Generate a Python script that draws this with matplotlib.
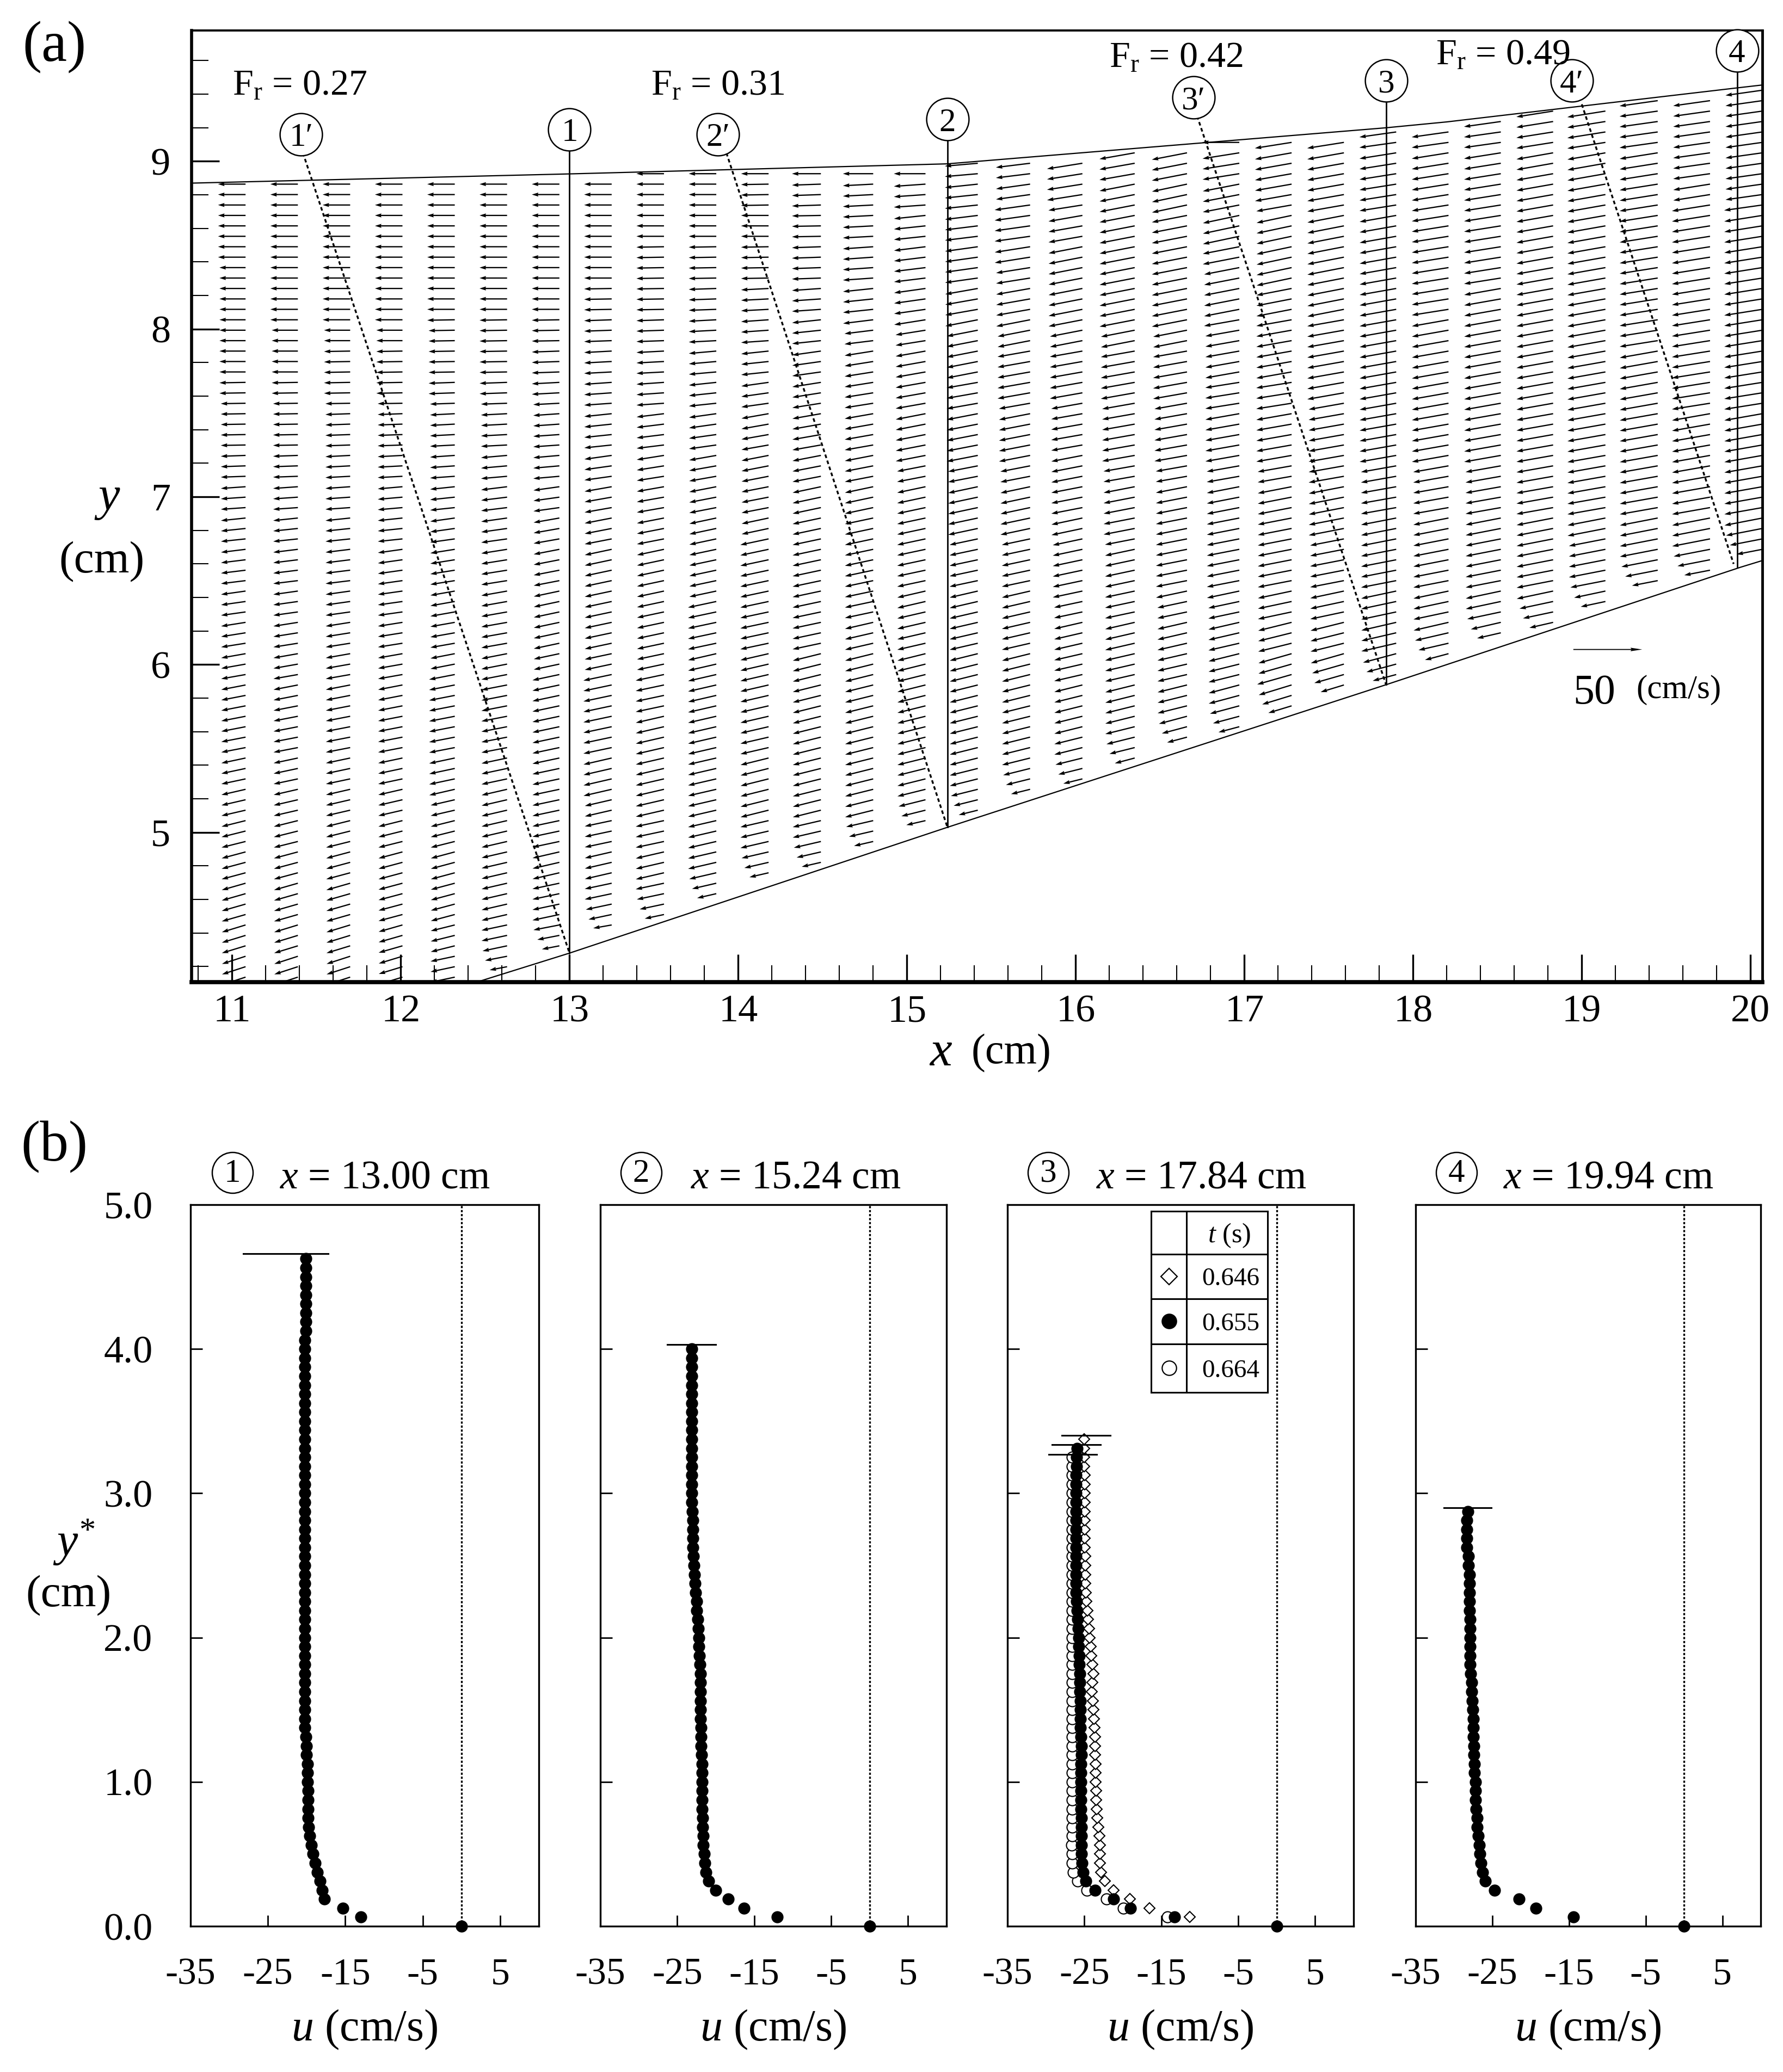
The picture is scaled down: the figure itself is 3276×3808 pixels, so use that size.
import numpy as np
import matplotlib
matplotlib.use("Agg")
import matplotlib.pyplot as plt

W, H = 3276, 3808
plt.rcParams['font.family'] = ['Liberation Serif', 'DejaVu Serif']
plt.rcParams['mathtext.fontset'] = 'custom'
plt.rcParams['mathtext.rm'] = 'Liberation Serif'
plt.rcParams['mathtext.it'] = 'Liberation Serif:italic'

# (a) boundaries and sections
surface_x = [10.76, 13.0, 15.24, 17.84, 18.2, 19.94, 20.07]
surface_y = [8.87, 8.925, 8.985, 9.2, 9.235, 9.44, 9.455]
bed_x = [12.45, 13.0, 15.24, 17.84, 19.94, 20.07]
bed_y = [4.107, 4.28, 5.03, 5.88, 6.58, 6.62]

section_names = ["1", "2", "3", "4"]
section_x = [13.0, 15.24, 17.84, 19.92]
section_bed = [4.28, 5.03, 5.88, 6.58]
section_top = [9.19, 9.25, 9.48, 9.66]
slant_names = ["1\u2032", "2\u2032", "3\u2032", "4\u2032"]
slant_label_x = [11.41, 13.88, 16.70, 18.94]
slant_label_y = [9.16, 9.16, 9.38, 9.48]
slant_top_x = [11.42, 13.93, 16.72, 19.0]
slant_top_y = [9.05, 9.05, 9.27, 9.34]
slant_end_x = [13.0, 15.24, 17.84, 19.9]
slant_end_y = [4.28, 5.03, 5.88, 6.6]
froude = ["0.27", "0.31", "0.42", "0.49"]

# (a) velocity field: tails of the arrows
col_x = [11.08, 11.39, 11.70, 12.01, 12.32, 12.63, 12.94, 13.25, 13.56, 13.87,
         14.18, 14.49, 14.80, 15.11, 15.42, 15.73, 16.04, 16.35, 16.66, 16.97,
         17.28, 17.59, 17.90, 18.21, 18.52, 18.83, 19.14, 19.45, 19.76, 20.07]
row_y0 = 8.864
row_dy = 0.0622

# downward angle of the arrows in degrees, one row per height, one entry per column
angle_y = [9.4, 9.2, 9.0, 8.8, 8.6, 8.4, 8.2, 8.0, 7.8, 7.6, 7.4, 7.2, 7.0, 6.8,
           6.6, 6.4, 6.2, 6.0, 5.8, 5.6, 5.4, 5.2, 5.0, 4.8, 4.6, 4.4, 4.2]
angle_deg = [
    [0,0,0,0,0,0,0,0,0,0,0,0,0,0,0,0,0,0,0,0,9,9,8,8,8,8,8,8,8,8],
    [0,0,0,0,0,0,0,0,0,0,0,0,0,0,0,0,0,0,0,0,9,9,8,8,8,9,9,8,8,8],
    [0,0,0,0,0,0,0,0,0,0,0,0,0,0,5,7,9,10,11,9,10,10,9,9,9,10,10,9,8,8],
    [0,0,0,0,0,0,0,0,0,0,1,2,3,4,6,8,9,11,12,11,10,10,9,9,9,10,10,9,9,8],
    [0,0,0,0,0,0,0,0,0,0,0,1,3,6,7,8,10,11,11,12,12,11,10,9,9,10,10,9,9,9],
    [0,0,0,0,0,0,0,0,1,1,1,2,4,7,8,9,11,11,11,11,12,11,10,9,9,10,10,9,9,9],
    [0,0,0,0,0,0,0,1,1,2,3,4,6,8,10,10,11,11,11,11,11,11,10,9,10,10,10,9,9,9],
    [0,0,0,0,1,1,1,2,2,3,4,6,7,9,11,11,11,11,11,10,10,10,10,10,10,10,10,9,9,9],
    [0,0,1,1,1,1,2,3,3,5,6,8,9,10,11,10,10,10,10,10,10,10,10,10,10,10,10,10,9,9],
    [1,1,1,1,2,2,3,4,4,6,8,9,9,10,10,10,10,10,10,9,9,10,10,10,10,10,10,10,9,9],
    [1,1,2,2,3,3,4,6,7,8,10,10,10,11,11,11,10,10,10,10,10,10,10,10,10,10,10,10,10,10],
    [2,2,3,3,4,5,5,8,9,10,11,11,11,11,11,11,11,10,10,10,10,10,10,10,10,10,10,10,10,10],
    [4,4,4,5,6,7,8,10,10,11,11,12,12,12,12,12,11,11,11,11,11,11,10,10,10,10,10,10,10,10],
    [6,6,6,6,8,8,10,11,11,12,12,12,12,12,12,12,12,11,11,11,11,11,11,11,11,11,11,11,11,11],
    [7,7,7,8,9,9,11,12,12,12,12,12,12,12,12,12,12,12,11,11,11,11,11,11,11,11,11,11,11,11],
    [8,8,8,8,10,10,12,12,12,12,12,12,12,13,13,13,12,12,12,12,12,12,12,12,12,12,12,13,13,13],
    [9,9,9,9,10,10,12,12,12,12,12,12,13,13,13,13,13,13,13,13,14,14,13,13,13,13,13,14,14,14],
    [10,10,10,10,11,11,12,12,12,13,13,14,14,14,14,14,13,13,13,14,16,16,15,15,15,15,15,15,16,16],
    [11,11,11,11,11,11,12,12,12,13,13,14,14,14,14,14,14,14,14,15,17,17,16,16,16,16,16,16,16,16],
    [11,11,11,11,11,11,12,12,13,13,13,14,14,14,14,14,14,14,15,15,17,17,16,16,16,16,16,16,16,16],
    [12,12,12,12,12,12,12,13,13,13,14,14,14,14,14,14,14,15,15,15,17,17,16,16,16,16,16,16,16,16],
    [13,13,13,13,13,13,12,13,13,13,14,14,14,14,14,14,14,15,15,15,17,17,16,16,16,16,16,16,16,16],
    [14,14,14,14,14,13,12,12,12,13,13,13,13,13,13,14,14,15,15,15,17,17,16,16,16,16,16,16,16,16],
    [15,15,15,15,15,13,13,13,13,13,13,13,13,13,13,14,14,15,15,15,17,17,16,16,16,16,16,16,16,16],
    [16,16,16,15,15,13,12,12,12,13,13,13,13,13,13,14,14,15,15,15,17,17,16,16,16,16,16,16,16,16],
    [17,17,17,16,14,12,11,10,12,13,13,13,13,13,13,14,14,15,15,15,17,17,16,16,16,16,16,16,16,16],
    [18,18,18,17,12,11,10,10,12,13,13,13,13,13,13,14,14,15,15,15,17,17,16,16,16,16,16,16,16,16],
]

# speed of the arrows in cm/s, same layout with coarser heights
speed_y = [9.4, 9.0, 8.6, 8.2, 7.8, 7.4, 7.0, 6.6, 6.2, 5.8, 5.4, 5.0, 4.6, 4.2]
speed = [
    [20,20,20,20,20,20,20,20,20,20,20,21,22,23,24,25,26,26,26,27,27,27,27,27,27,27,28,28,27,27],
    [20,20,20,20,20,20,20,20,20,20,20,21,22,23,24,25,26,26,26,27,27,27,27,27,27,27,28,28,27,27],
    [20,20,20,20,20,20,20,20,20,20,20,21,22,23,24,26,25,26,26,27,26,27,27,27,27,27,28,28,28,28],
    [19,20,20,20,20,20,20,20,20,20,20,21,22,23,24,25,25,26,26,26,26,27,27,27,27,27,28,28,28,28],
    [19,19,19,19,19,20,20,20,20,20,20,21,21,22,23,24,24,25,25,25,26,27,27,27,27,27,28,28,28,28],
    [18,18,18,18,18,19,19,20,20,20,20,21,21,22,23,23,23,24,24,25,26,26,27,27,27,27,28,28,28,28],
    [18,18,18,18,18,19,19,20,20,20,20,21,21,21,22,22,23,23,23,24,25,26,26,26,26,27,28,28,28,28],
    [18,18,18,18,18,19,19,20,20,20,21,21,21,21,21,21,22,22,23,24,25,25,26,26,26,27,27,28,28,28],
    [18,18,18,18,18,19,19,20,20,21,21,21,21,21,21,21,21,22,22,23,25,25,26,26,26,26,27,27,27,27],
    [18,18,18,18,19,19,20,21,21,21,21,21,21,21,21,21,21,22,22,23,26,26,26,26,26,26,27,27,27,27],
    [18,18,18,18,19,19,20,21,21,21,21,21,21,21,21,21,21,22,22,23,26,26,26,26,26,26,27,27,27,27],
    [18,18,18,18,18,19,20,20,21,21,21,21,21,21,21,21,21,22,22,23,26,26,26,26,26,26,27,27,27,27],
    [18,18,18,18,18,19,20,20,21,21,21,21,21,21,21,21,21,22,22,23,26,26,26,26,26,26,27,27,27,27],
    [18,18,18,18,18,19,19,20,21,21,21,21,21,21,21,21,21,22,22,23,26,26,26,26,26,26,27,27,27,27],
]
# shortening of the last rows above the bed, lowest row first
bed_ratio = [0.68, 0.86, 0.96]

# (b) velocity profiles, u at y* = 0, 0.0625, 0.125, ...
u_p1 = [0, -13.0, -15.3, -17.7, -18.0, -18.3, -18.6, -18.9, -19.15, -19.4, -19.6, -19.75, -19.8, -19.8,
        -19.8, -19.8, -19.85, -19.85, -19.9, -20.0, -20.0, -20.1, -20.2, -20.2, -20.2, -20.2, -20.2] \
    + [-20.2]*14 + [-20.25]*15 + [-20.2]*10 + [-20.1]*9
u_p2 = [0, -12.0, -16.3, -18.35, -20.0, -20.9, -21.27, -21.4, -21.5, -21.6, -21.65, -21.7, -21.7, -21.75,
        -21.75, -21.8, -21.8, -21.8, -21.8, -21.85, -21.9, -21.9, -21.9, -21.95, -22.0, -22.0, -22.0,
        -22.0, -22.0, -22.05, -22.1, -22.2, -22.2, -22.25, -22.35, -22.45, -22.5, -22.6, -22.7, -22.75,
        -22.85, -22.9, -22.95, -23.0, -23.0, -23.0, -23.05, -23.1, -23.1] + [-23.1]*16
u_p3_filled = [0, -13.3, -19.0, -21.2, -23.6, -24.8, -25.2, -25.3, -25.4, -25.4, -25.4, -25.4, -25.4,
               -25.45, -25.45, -25.45, -25.45, -25.45, -25.45, -25.4, -25.4, -25.45, -25.5, -25.5, -25.55,
               -25.55, -25.6, -25.6, -25.6, -25.65, -25.65, -25.7, -25.75, -25.8, -25.9, -25.95, -26.0,
               -26.05, -26.05, -26.05, -26.05, -26.05, -26.05, -26.05, -26.05, -26.05, -26.05, -26.05,
               -26.05, -26.05, -26.05, -26.0, -26.0, -25.97]
u_p3_open = [None, -14.2, -19.9, -22.1, -24.65, -25.9, -26.46, -26.6, -26.6, -26.65] + [-26.6]*43
u_p3_diamond = [None, -11.3, -16.5, -19.1, -21.2, -22.3, -22.8, -23.0, -23.0, -23.0, -23.05, -23.2, -23.3,
                -23.4, -23.45, -23.5, -23.55, -23.55, -23.55, -23.6, -23.6, -23.6, -23.7, -23.75, -23.85,
                -23.9, -24.0, -23.95, -23.85, -23.95, -24.1, -24.2, -24.3, -24.4, -24.5, -24.6, -24.75,
                -24.8, -24.85, -24.85, -24.9, -24.9] + [-24.95]*9 + [-25.0]*4
u_p4 = [0, -14.4, -19.3, -21.5, -24.7, -25.9, -26.3, -26.5, -26.6, -26.7, -26.85, -27.0, -27.0, -27.1,
        -27.2, -27.2, -27.2, -27.3, -27.3, -27.4, -27.4, -27.45, -27.5, -27.5, -27.55, -27.6, -27.7,
        -27.7, -27.8, -27.9, -27.9, -27.9, -27.9, -27.9, -27.9, -27.95, -27.95, -28.0, -28.0, -28.0,
        -28.1, -28.15, -28.3, -28.3, -28.3, -28.3, -28.2]
row_dystar = 0.0625

panel_names = ["1", "2", "3", "4"]
panel_titles = ["13.00", "15.24", "17.84", "19.94"]
surf_lines = [[(4.66, -28.2, -17.2)], [(4.03, -26.3, -20.0)],
              [(3.40, -27.9, -21.6), (3.337, -29.2, -22.9), (3.27, -29.6, -23.4)],
              [(2.90, -31.3, -25.1)]]
u_ticks = [-35, -25, -15, -5, 5]
ystar_ticks = [0, 1, 2, 3, 4, 5]
legend_times = ["0.646", "0.655", "0.664"]


def px_axes(fig, left, top, right, bottom):
    return fig.add_axes([left/W, 1-bottom/H, (right-left)/W, (bottom-top)/H])


def ftext(fig, x, y, s, size, **kw):
    kw.setdefault("ha", "center")
    kw.setdefault("va", "center")
    return fig.text(x/W, 1-y/H, s, fontsize=size, **kw)


fig = plt.figure(figsize=(W/100, H/100), dpi=100)

# ---- panel (a)
ax = px_axes(fig, 352, 56, 3238, 1805)
ax.set_xlim(10.76, 20.07)
ax.set_ylim(4.107, 9.78)

xs, ys, us, vs = [], [], [], []
angle_y_arr = np.array(angle_y)
speed_y_arr = np.array(speed_y)
angle_arr = np.array(angle_deg, dtype=float)
speed_arr = np.array(speed, dtype=float)
all_rows = row_y0 - row_dy*np.arange(-10, 78)
for c, x in enumerate(col_x):
    top = np.interp(x, surface_x, surface_y) - 0.008
    low = np.interp(x, bed_x, bed_y) + 0.025
    rows = all_rows[(all_rows <= top) & (all_rows >= low)]
    for i, y in enumerate(rows):
        a = np.radians(angle_arr[np.argmin(np.abs(angle_y_arr-y)), c])
        s = speed_arr[np.argmin(np.abs(speed_y_arr-y)), c]
        from_bed = len(rows)-1-i
        if x > bed_x[0] and from_bed < len(bed_ratio):
            s = s*bed_ratio[from_bed]
        xs.append(x)
        ys.append(y)
        us.append(-s*np.cos(a))
        vs.append(-s*np.sin(a))
ax.quiver(xs, ys, us, vs, pivot='tail', units='dots', scale_units='dots', scale=1/2.53,
          width=2.3, headwidth=3.2, headlength=5.2, headaxislength=4.8, minlength=0,
          color='k', zorder=2)

ax.plot(surface_x, surface_y, color='k', lw=1.6, zorder=3)
ax.plot(bed_x, bed_y, color='k', lw=1.6, zorder=3)

for i in range(4):
    ax.plot([section_x[i], section_x[i]], [section_bed[i], section_top[i]], color='k', lw=2.0, zorder=3)
    ax.plot([slant_top_x[i], slant_end_x[i]], [slant_top_y[i], slant_end_y[i]], color='k', lw=2.4,
            dashes=(2.0, 1.5), zorder=3)
    ax.plot(section_x[i], section_top[i], 'o', ms=56, mfc='white', mec='k', mew=1.8, zorder=4, clip_on=False)
    ax.text(section_x[i], section_top[i], section_names[i], fontsize=44, ha='center', va='center_baseline', zorder=5)
    ax.plot(slant_label_x[i], slant_label_y[i], 'o', ms=56, mfc='white', mec='k', mew=1.8, zorder=4, clip_on=False)
    ax.text(slant_label_x[i], slant_label_y[i], slant_names[i], fontsize=44, ha='center', va='center_baseline', zorder=5)

ax.quiver([18.95], [6.09], [50], [0], pivot='tail', units='dots', scale_units='dots', scale=1/2.53,
          width=1.8, headwidth=3.6, headlength=12, headaxislength=11, color='k', zorder=2)

ax.set_xticks(range(11, 21))
ax.set_xticks(np.arange(10.8, 20.05, 0.2), minor=True)
ax.set_yticks([5, 6, 7, 8, 9])
ax.set_yticks(np.arange(4.2, 9.75, 0.2), minor=True)
ax.tick_params(axis='both', which='major', direction='in', length=37, width=2.4, labelsize=52)
ax.tick_params(axis='both', which='minor', direction='in', length=22, width=1.5)
ax.tick_params(axis='x', which='major', pad=16)
ax.tick_params(axis='y', which='major', pad=28)
ax.spines['top'].set_linewidth(2.8)
ax.spines['left'].set_linewidth(4)
ax.spines['right'].set_linewidth(3.5)
ax.spines['bottom'].set_linewidth(5.5)

fr_xy = [(551, 158), (1319, 158), (2161, 107), (2761, 102)]
for (px, py), f in zip(fr_xy, froude):
    ftext(fig, px, py, "F$_{\\mathrm{r}}$ = " + f, 49)
ftext(fig, 2929, 1274, "50", 56)
ftext(fig, 3084, 1268, "(cm/s)", 44)
ftext(fig, 1729, 1936, "$\\mathit{x}$", 66)
ftext(fig, 1858, 1936, "(cm)", 56)
ftext(fig, 197, 918, "$\\mathit{y}$", 64)
ftext(fig, 187, 1033, "(cm)", 60)
ftext(fig, 100, 87, "(a)", 76)
ftext(fig, 100, 2108, "(b)", 76)

# ---- panel (b)
panel_px = [(350, 990), (1103, 1739), (1851, 2487), (2601, 3235)]
circle_cx = [427, 1178, 1926, 2676]
title_cx = [707, 1462, 2207, 2955]
profiles = [u_p1, u_p2, u_p3_filled, u_p4]
for n, (left, right) in enumerate(panel_px):
    axb = px_axes(fig, left, 2214, right, 3540)
    axb.set_xlim(-35, 10)
    axb.set_ylim(0, 5)
    axb.axvline(0, color='k', lw=2.4, dashes=(1.2, 1), zorder=1)
    if n == 2:
        k = np.arange(len(u_p3_open))
        axb.plot(u_p3_open[1:], k[1:]*row_dystar, 'o', ms=14.5, mfc='white', mec='k', mew=1.5,
                 ls='none', zorder=2, clip_on=False)
        k = np.arange(len(u_p3_diamond))
        axb.plot(u_p3_diamond[1:], k[1:]*row_dystar, 'D', ms=10.2, mfc='white', mec='k', mew=1.5,
                 ls='none', zorder=3, clip_on=False)
    k = np.arange(len(profiles[n]))
    axb.plot(profiles[n], k*row_dystar, 'o', ms=16, color='k', mew=0, ls='none', zorder=4, clip_on=False)
    for ys_line, u0, u1 in surf_lines[n]:
        axb.plot([u0, u1], [ys_line, ys_line], color='k', lw=2.2, zorder=5)
    axb.set_xticks(u_ticks)
    axb.set_xticklabels([str(t) for t in u_ticks])
    axb.set_yticks(ystar_ticks)
    if n == 0:
        axb.set_yticklabels(["%.1f" % t for t in ystar_ticks])
    else:
        axb.set_yticklabels([])
    axb.tick_params(axis='x', direction='in', length=14.5, width=2, labelsize=50, pad=42)
    axb.tick_params(axis='y', direction='in', length=16, width=2, labelsize=52, pad=50)
    for sp in axb.spines.values():
        sp.set_linewidth(2.4)
    ftext(fig, (left+right)/2, 3730, "$\\mathit{u}$ (cm/s)", 59)
    ftext(fig, title_cx[n], 2166, "$\\mathit{x}$ = " + panel_titles[n] + " cm", 53)
    fig.add_artist(plt.Line2D([circle_cx[n]/W], [1-2155/H], marker='o', ms=54, mfc='white', mec='k', mew=1.8,
                              transform=fig.transFigure))
    ftext(fig, circle_cx[n], 2157, panel_names[n], 44)
    if n == 2:
        # legend box of the third panel
        lx = [-16.3, -11.7, -1.2]
        ly = [4.955, 4.657, 4.348, 4.035, 3.70]
        for v in lx:
            axb.plot([v, v], [ly[0], ly[-1]], color='k', lw=2.2, zorder=6)
        for v in ly:
            axb.plot([lx[0], lx[-1]], [v, v], color='k', lw=2.2, zorder=6)
        axb.text(-6.2, 4.785, "$\\mathit{t}$ (s)", fontsize=36, ha='center', va='center')
        styles = [('D', 15.5, 'white'), ('o', 19, 'k'), ('o', 19, 'white')]
        for j, lab in enumerate(legend_times):
            cy = (ly[j+1]+ly[j+2])/2
            m, ms, fc = styles[j]
            axb.plot(-14.0, cy, m, ms=ms, mfc=fc, mec='k', mew=1.6, zorder=6)
            axb.text(-6.0, cy-0.02, lab, fontsize=34, ha='center', va='center')

ftext(fig, 136, 2835, "$\\mathit{y}^{*}$", 62)
ftext(fig, 126, 2933, "(cm)", 60)

fig.savefig("out.png", dpi=100, facecolor='white')
